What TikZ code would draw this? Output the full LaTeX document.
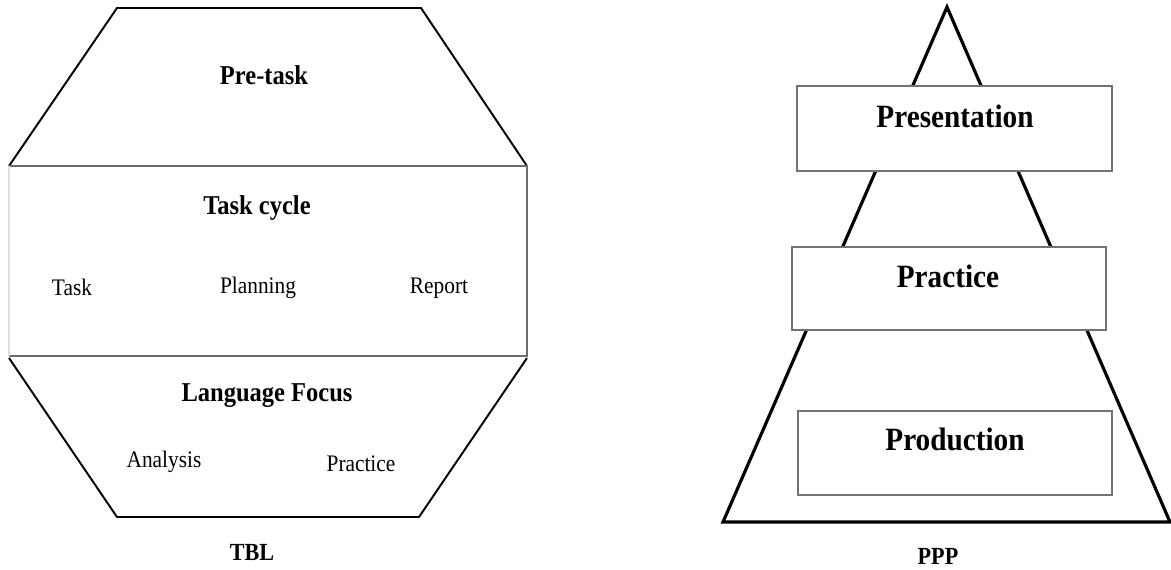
\documentclass[tikz,border=0pt]{standalone}
\usepackage{fontspec}
\setmainfont{Liberation Serif}[FakeStretch=0.9]
\usepackage{tikz}
\usetikzlibrary{positioning}

\begin{document}
\begin{tikzpicture}[x=0.02cm, y=-0.02cm]
        \tikzstyle{head} = [font=\bfseries\fontsize{15.5}{18}\selectfont, inner sep=0pt]
        \tikzstyle{item} = [font=\fontsize{13.5}{16}\selectfont, inner sep=0pt]
        \tikzstyle{stage} = [font=\bfseries\fontsize{18.5}{22}\selectfont, inner sep=0pt]
        \tikzstyle{caption} = [font=\bfseries\fontsize{14}{17}\selectfont, inner sep=0pt]
        \tikzstyle{edge} = [draw, black, line width=1.1pt, line join=miter]
        \tikzstyle{band} = [draw, gray!85!black, line width=1pt]
        \tikzstyle{stagebox} = [draw, gray!90!black, fill=white, line width=0.9pt]

        \useasboundingbox (0,0) rectangle (1171,569);

        % TBL
        \path [edge] (9,166) -- (117,8) -- (421,8) -- (527,166);
        \path [band] (9,166) -- (527,166) -- (527,356) -- (9,356);
        \draw [gray!25, line width=0.8pt] (9,166) -- (9,356);
        \path [edge] (9,358) -- (117,517) -- (419,517) -- (527,358);

        \node [head] (pretask) at (264,75) {Pre-task};
        \node [head] (taskcycle) at (257,208) {Task cycle};
        \node [item] (task) at (72,287) {Task};
        \node [item] (planning) at (258,288) {Planning};
        \node [item] (report) at (439,288) {Report};
        \node [head] (langfocus) at (267,396) {Language Focus};
        \node [item] (analysis) at (164,462) {Analysis};
        \node [item] (lfpractice) at (361,464) {Practice};
        \node [caption] (tbl) at (252,552) {TBL};

        % PPP
        \path [edge, line width=1.8pt] (947,7) -- (1170,522) -- (723,522) -- cycle;
        \path [stagebox] (797,86) rectangle (1112,171);
        \path [stagebox] (792,247) rectangle (1106,330);
        \path [stagebox] (798,411) rectangle (1112,495);

        \node [stage] (presentation) at (955,116) {Presentation};
        \node [stage] (practice) at (948,276) {Practice};
        \node [stage] (production) at (955,439) {Production};
        \node [caption] (ppp) at (938,556) {PPP};
    \end{tikzpicture}
\end{document}
